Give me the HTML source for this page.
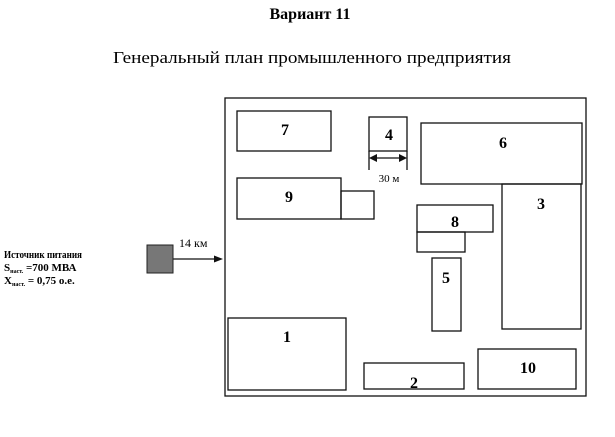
<!DOCTYPE html>
<html><head><meta charset="utf-8">
<style>html,body{margin:0;padding:0;background:#fff;}svg{display:block}</style>
</head><body>
<svg width="615" height="437" viewBox="0 0 615 437" xmlns="http://www.w3.org/2000/svg" font-family="'Liberation Serif', serif">
<text x="310" y="19" text-anchor="middle" font-size="16" font-weight="bold">Вариант 11</text>
<text x="312" y="63" text-anchor="middle" font-size="17" textLength="398" lengthAdjust="spacingAndGlyphs">Генеральный план промышленного предприятия</text>
<g fill="none" stroke="#111" stroke-width="1.3">
<rect x="225" y="98" width="361" height="298"/>
<rect x="237" y="111" width="94" height="40"/>
<rect x="369" y="117" width="38" height="34"/>
<rect x="421" y="123" width="161" height="61"/>
<rect x="502" y="184" width="79" height="145"/>
<rect x="237" y="178" width="104" height="41"/>
<rect x="341" y="191" width="33" height="28"/>
<rect x="417" y="205" width="76" height="27"/>
<rect x="417" y="232" width="48" height="20"/>
<rect x="432" y="258" width="29" height="73"/>
<rect x="228" y="318" width="118" height="72"/>
<rect x="364" y="363" width="100" height="26"/>
<rect x="478" y="349" width="98" height="40"/>
<line x1="369" y1="151" x2="369" y2="170"/>
<line x1="407" y1="151" x2="407" y2="170"/>
<line x1="372" y1="158" x2="404" y2="158"/>
<line x1="173" y1="259" x2="216" y2="259"/>
</g>
<path d="M369 158 L377 154 L377 162 Z M407 158 L399 154 L399 162 Z M223 259 L214 255.5 L214 262.5 Z" fill="#111"/>
<rect x="147" y="245" width="26" height="28" fill="#777" stroke="#222" stroke-width="1"/>
<g font-size="16" font-weight="bold" text-anchor="middle">
<text x="285" y="135">7</text>
<text x="389" y="140">4</text>
<text x="503" y="148">6</text>
<text x="541" y="209">3</text>
<text x="289" y="202">9</text>
<text x="455" y="227">8</text>
<text x="446" y="283">5</text>
<text x="287" y="342">1</text>
<text x="414" y="388">2</text>
<text x="528" y="373">10</text>
</g>
<text x="389" y="182" text-anchor="middle" font-size="11">30 м</text>
<text x="179" y="247" font-size="12">14 км</text>
<g font-size="11" font-weight="bold">
<text x="4" y="258" textLength="78" lengthAdjust="spacingAndGlyphs">Источник питания</text>
<text x="4" y="271">S<tspan font-size="6" dy="2">наст.</tspan><tspan dy="-2"> =700 МВА</tspan></text>
<text x="4" y="284">X<tspan font-size="6" dy="2">наст.</tspan><tspan dy="-2"> = 0,75 о.е.</tspan></text>
</g>
</svg>
</body></html>
